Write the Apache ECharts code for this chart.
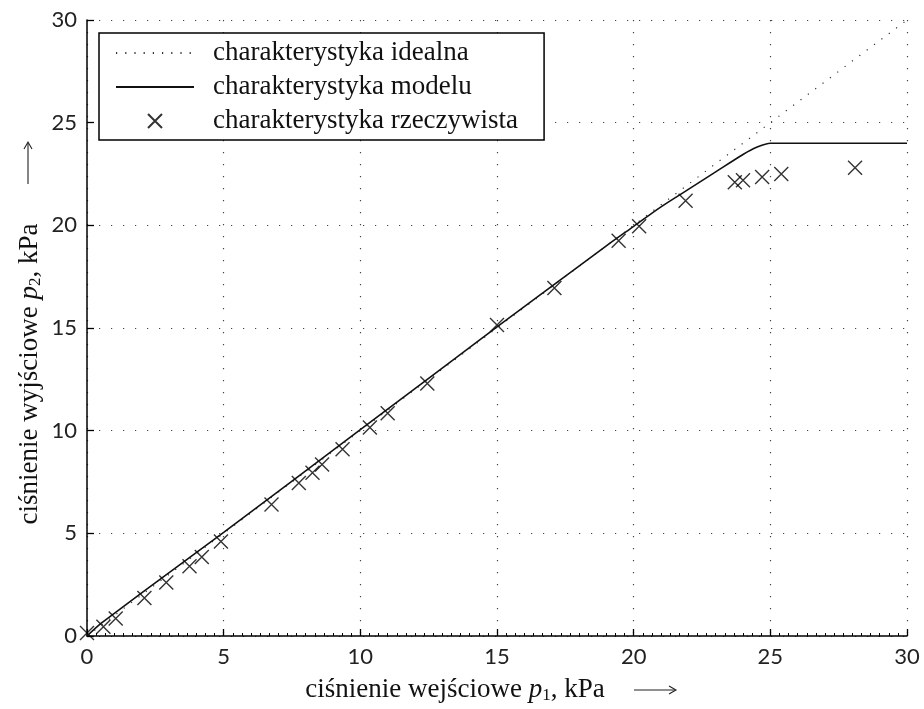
<!DOCTYPE html>
<html>
<head>
<meta charset="utf-8">
<script src="https://cdn.jsdelivr.net/npm/echarts@6/dist/echarts.min.js"></script>
<style>
  html, body { margin: 0; padding: 0; background: #fff; }
  #chart { width: 924px; height: 709px; }
</style>
</head>
<body>
<div id="chart"></div>
<script>
// ideal characteristic p2 = p1
const idealX = [0, 30]
const idealY = [0, 30]

// model characteristic
const modelX = [0, 0.5, 1, 2, 5, 10, 15, 19, 20, 21, 22, 23, 24, 24.5, 25, 30]
const modelY = [0, 0.6, 1.1, 2.1, 5.05, 10.05, 15.05, 19.0, 19.95, 20.9, 21.75, 22.6, 23.45, 23.8, 24, 24]

// measured points
const measX = [0, 0.6, 1.05, 2.1, 2.9, 3.75, 4.2, 4.9, 6.75, 7.75, 8.25, 8.6, 9.35, 10.35, 11.0, 12.45, 15.0, 17.1, 19.45, 20.2, 21.9, 23.7, 24.0, 24.7, 25.4, 28.1]
const measY = [0.15, 0.45, 0.85, 1.85, 2.6, 3.4, 3.85, 4.6, 6.4, 7.45, 7.95, 8.35, 9.1, 10.15, 10.85, 12.3, 15.15, 16.95, 19.25, 19.95, 21.2, 22.1, 22.2, 22.35, 22.5, 22.8]

const names = ['charakterystyka idealna', 'charakterystyka modelu', 'charakterystyka rzeczywista']

const zip = (xs, ys) => xs.map((x, i) => [x, ys[i]])

const serif = 'Liberation Serif'
const sans = 'Lato'
const cross = 'path://M0,0L10,10M10,0L0,10'

const chart = echarts.init(document.getElementById('chart'))

const gridLine = { show: true, lineStyle: { color: '#444', width: 1.2, type: [1.2, 10.8] } }
const noDot = { color: 'transparent', borderWidth: 0 }

const labelRich = {
  i: { fontFamily: serif, fontSize: 27, fontStyle: 'italic', fill: '#111' },
  s: { fontFamily: serif, fontSize: 17, fill: '#111', padding: [11, 0, 0, 0] }
}

// thin long arrow pointing along +x of its own frame
function arrow (x, y, rot) {
  const st = { stroke: '#222', lineWidth: 1.1, fill: null }
  return {
    type: 'group', x: x, y: y, rotation: rot,
    children: [
      { type: 'line', shape: { x1: 0, y1: 0, x2: 41, y2: 0 }, style: st },
      { type: 'polyline', shape: { points: [[35, -4], [42, 0], [35, 4]] }, style: st }
    ]
  }
}

chart.setOption({
  animation: false,
  backgroundColor: '#fff',
  grid: { left: 87, right: 17, top: 20, bottom: 73 },
  xAxis: {
    type: 'value', min: 0, max: 30, interval: 5,
    axisLine: { lineStyle: { color: '#000', width: 1.5 } },
    axisTick: { inside: true, length: 7, lineStyle: { color: '#000', width: 1.3 } },
    minorTick: { show: true, splitNumber: 15, length: 3, lineStyle: { color: '#000', width: 1 } },
    axisLabel: { color: '#222', fontFamily: sans, fontSize: 22, margin: 10 },
    splitLine: gridLine
  },
  yAxis: {
    type: 'value', min: 0, max: 30, interval: 5,
    axisLine: { show: true, lineStyle: { color: '#000', width: 1.5 } },
    axisTick: { show: true, inside: true, length: 7, lineStyle: { color: '#000', width: 1.3 } },
    axisLabel: { color: '#222', fontFamily: sans, fontSize: 22, margin: 10 },
    splitLine: gridLine
  },
  legend: {
    orient: 'vertical',
    left: 99, top: 33,
    padding: [6, 26, 5, 16],
    itemWidth: 78, itemHeight: 14, itemGap: 6,
    backgroundColor: '#fff',
    borderColor: '#000', borderWidth: 1.5,
    textStyle: { fontFamily: serif, fontSize: 27, color: '#111', lineHeight: 28, padding: [0, 0, 0, 14] },
    data: [
      { name: names[0], itemStyle: noDot },
      { name: names[1], itemStyle: noDot },
      { name: names[2] }
    ],
    selectedMode: false
  },
  series: [
    {
      name: names[0], type: 'line', data: zip(idealX, idealY),
      symbol: 'none', silent: true,
      itemStyle: { color: '#333' },
      lineStyle: { color: '#333', width: 1.2, type: [1.2, 8] }
    },
    {
      name: names[1], type: 'line', data: zip(modelX, modelY),
      symbol: 'none', smooth: 0.3, silent: true,
      itemStyle: { color: '#111' },
      lineStyle: { color: '#111', width: 1.6 }
    },
    {
      name: names[2], type: 'scatter', data: zip(measX, measY),
      symbol: cross, symbolSize: 14, silent: true,
      itemStyle: { color: 'transparent', borderColor: '#000', borderWidth: 1.4 }
    }
  ],
  graphic: [
    {
      type: 'text', x: 455, y: 690,
      style: {
        text: 'ciśnienie wejściowe {i|p}{s|1}, kPa',
        font: '27px "' + serif + '"', fill: '#111', align: 'center', verticalAlign: 'middle',
        rich: labelRich
      }
    },
    arrow(634, 690, 0),
    {
      type: 'text', x: 30, y: 374, rotation: Math.PI / 2,
      style: {
        text: 'ciśnienie wyjściowe {i|p}{s|2}, kPa',
        font: '27px "' + serif + '"', fill: '#111', align: 'center', verticalAlign: 'middle',
        rich: labelRich
      }
    },
    arrow(28, 184, Math.PI / 2)
  ]
})
</script>
</body>
</html>
